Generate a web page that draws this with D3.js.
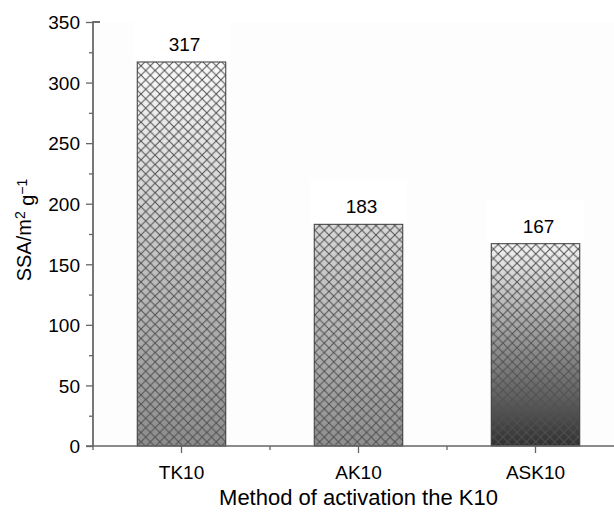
<!DOCTYPE html>
<html>
<head>
<meta charset="utf-8">
<script src="https://cdn.jsdelivr.net/npm/d3@7"></script>
<style>
  body { margin: 0; background: #fff; }
  text { font-family: "Liberation Sans", Arial, Helvetica, sans-serif; fill: #000; }
</style>
</head>
<body>
<svg width="614" height="513"></svg>
<script>
var categories = ["TK10", "AK10", "ASK10"];
var values = [317, 183, 167];
var yTicks = [0, 50, 100, 150, 200, 250, 300, 350];
var yMinorTicks = [25, 75, 125, 175, 225, 275, 325];
// top / bottom shade of each bar
var topShade = ["#fbfbfb", "#d8d8d8", "#f4f4f4"];
var bottomShade = ["#8c8c8c", "#8e8e8e", "#303030"];

var svg = d3.select("svg"),
  width = +svg.attr("width"),
  height = +svg.attr("height");

var x0 = 93, x1 = 624, yTop = 22, yBottom = 446;

var x = d3.scaleBand()
  .domain(categories)
  .range([x0, x1])
  .paddingInner(0.5)
  .paddingOuter(0.25);

var y = d3.scaleLinear().domain([0, 350]).range([yBottom, yTop]);

var defs = svg.append("defs");

var p = 9.4;
var hatch = defs.append("pattern")
  .attr("id", "hatch")
  .attr("patternUnits", "userSpaceOnUse")
  .attr("width", p)
  .attr("height", p);
hatch.append("path")
  .attr("d", "M0,0L" + p + "," + p + "M" + p + ",0L0," + p)
  .attr("stroke", "#505050")
  .attr("stroke-width", 1)
  .attr("fill", "none");

categories.forEach(function (c, i) {
  var g = defs.append("linearGradient")
    .attr("id", "grad" + i)
    .attr("x1", 0).attr("y1", 0).attr("x2", 0).attr("y2", 1);
  g.append("stop").attr("offset", "0%").attr("stop-color", topShade[i]);
  g.append("stop").attr("offset", "100%").attr("stop-color", bottomShade[i]);
});

// plot area, very faintly off-white
svg.append("rect")
  .attr("x", x0).attr("y", yTop)
  .attr("width", width - x0).attr("height", yBottom - yTop)
  .attr("fill", "#fdfdfd");

var data = categories.map(function (c, i) { return { cat: c, value: values[i], i: i }; });

// label boxes
svg.append("g").selectAll("rect")
  .data(data).enter().append("rect")
  .attr("x", function (d) { return x(d.cat) - 4; })
  .attr("y", function (d) { return y(d.value) - 44; })
  .attr("width", x.bandwidth() + 8)
  .attr("height", 44)
  .attr("fill", "#fff");

var bars = svg.append("g");
bars.selectAll("rect.fill")
  .data(data).enter().append("rect")
  .attr("class", "fill")
  .attr("x", function (d) { return x(d.cat); })
  .attr("y", function (d) { return y(d.value); })
  .attr("width", x.bandwidth())
  .attr("height", function (d) { return y(0) - y(d.value); })
  .attr("fill", function (d) { return "url(#grad" + d.i + ")"; });
bars.selectAll("rect.hatch")
  .data(data).enter().append("rect")
  .attr("class", "hatch")
  .attr("x", function (d) { return x(d.cat); })
  .attr("y", function (d) { return y(d.value); })
  .attr("width", x.bandwidth())
  .attr("height", function (d) { return y(0) - y(d.value); })
  .attr("fill", "url(#hatch)")
  .attr("stroke", "#3a3a3a")
  .attr("stroke-width", 1);

svg.append("g").selectAll("text")
  .data(data).enter().append("text")
  .attr("x", function (d) { return x(d.cat) + x.bandwidth() / 2 + 3; })
  .attr("y", function (d) { return y(d.value) - 11; })
  .attr("text-anchor", "middle")
  .style("font-size", "19px")
  .text(function (d) { return d.value; });

// y axis
var yAxis = svg.append("g")
  .attr("transform", "translate(" + x0 + ",0)")
  .call(d3.axisLeft(y).tickValues(yTicks).tickSize(7).tickPadding(6));
yAxis.append("g").call(d3.axisLeft(y).tickValues(yMinorTicks).tickSize(4).tickFormat(""));
yAxis.selectAll("path, line").attr("stroke", "#666").attr("stroke-width", 1.3);
yAxis.selectAll("path").attr("d", "M0," + yBottom + "V" + yTop + "H7");
yAxis.selectAll("text").style("font-size", "19px").attr("font-family", null).attr("dy", "0.36em");

// x axis
var xAxis = svg.append("g")
  .attr("transform", "translate(0," + yBottom + ")")
  .call(d3.axisBottom(x).tickSize(7).tickPadding(13).tickSizeOuter(0));
var bounds = [x0, x0 + x.step(), x0 + 2 * x.step(), x1];
xAxis.selectAll(".minor")
  .data(bounds).enter().append("line")
  .attr("class", "minor")
  .attr("x1", function (d) { return d; }).attr("x2", function (d) { return d; })
  .attr("y1", 0).attr("y2", 4);
xAxis.selectAll("path, line").attr("stroke", "#666").attr("stroke-width", 1.3);
xAxis.select("path").attr("d", "M" + (x0 - 7) + ",0H" + x1);
xAxis.selectAll("text").style("font-size", "19px").attr("font-family", null);

svg.append("text")
  .attr("x", x("AK10") + x.bandwidth() / 2)
  .attr("y", 505)
  .attr("text-anchor", "middle")
  .style("font-size", "22px")
  .text("Method of activation the K10");

var yt = svg.append("text")
  .attr("transform", "translate(31," + 230 + ") rotate(-90)")
  .attr("text-anchor", "middle")
  .style("font-size", "20px");
yt.append("tspan").text("SSA/m");
yt.append("tspan").attr("dy", "-0.45em").style("font-size", "14px").text("2");
yt.append("tspan").attr("dy", "0.45em").text(" g");
yt.append("tspan").attr("dy", "-0.45em").style("font-size", "14px").text("\u22121");
</script>
</body>
</html>
